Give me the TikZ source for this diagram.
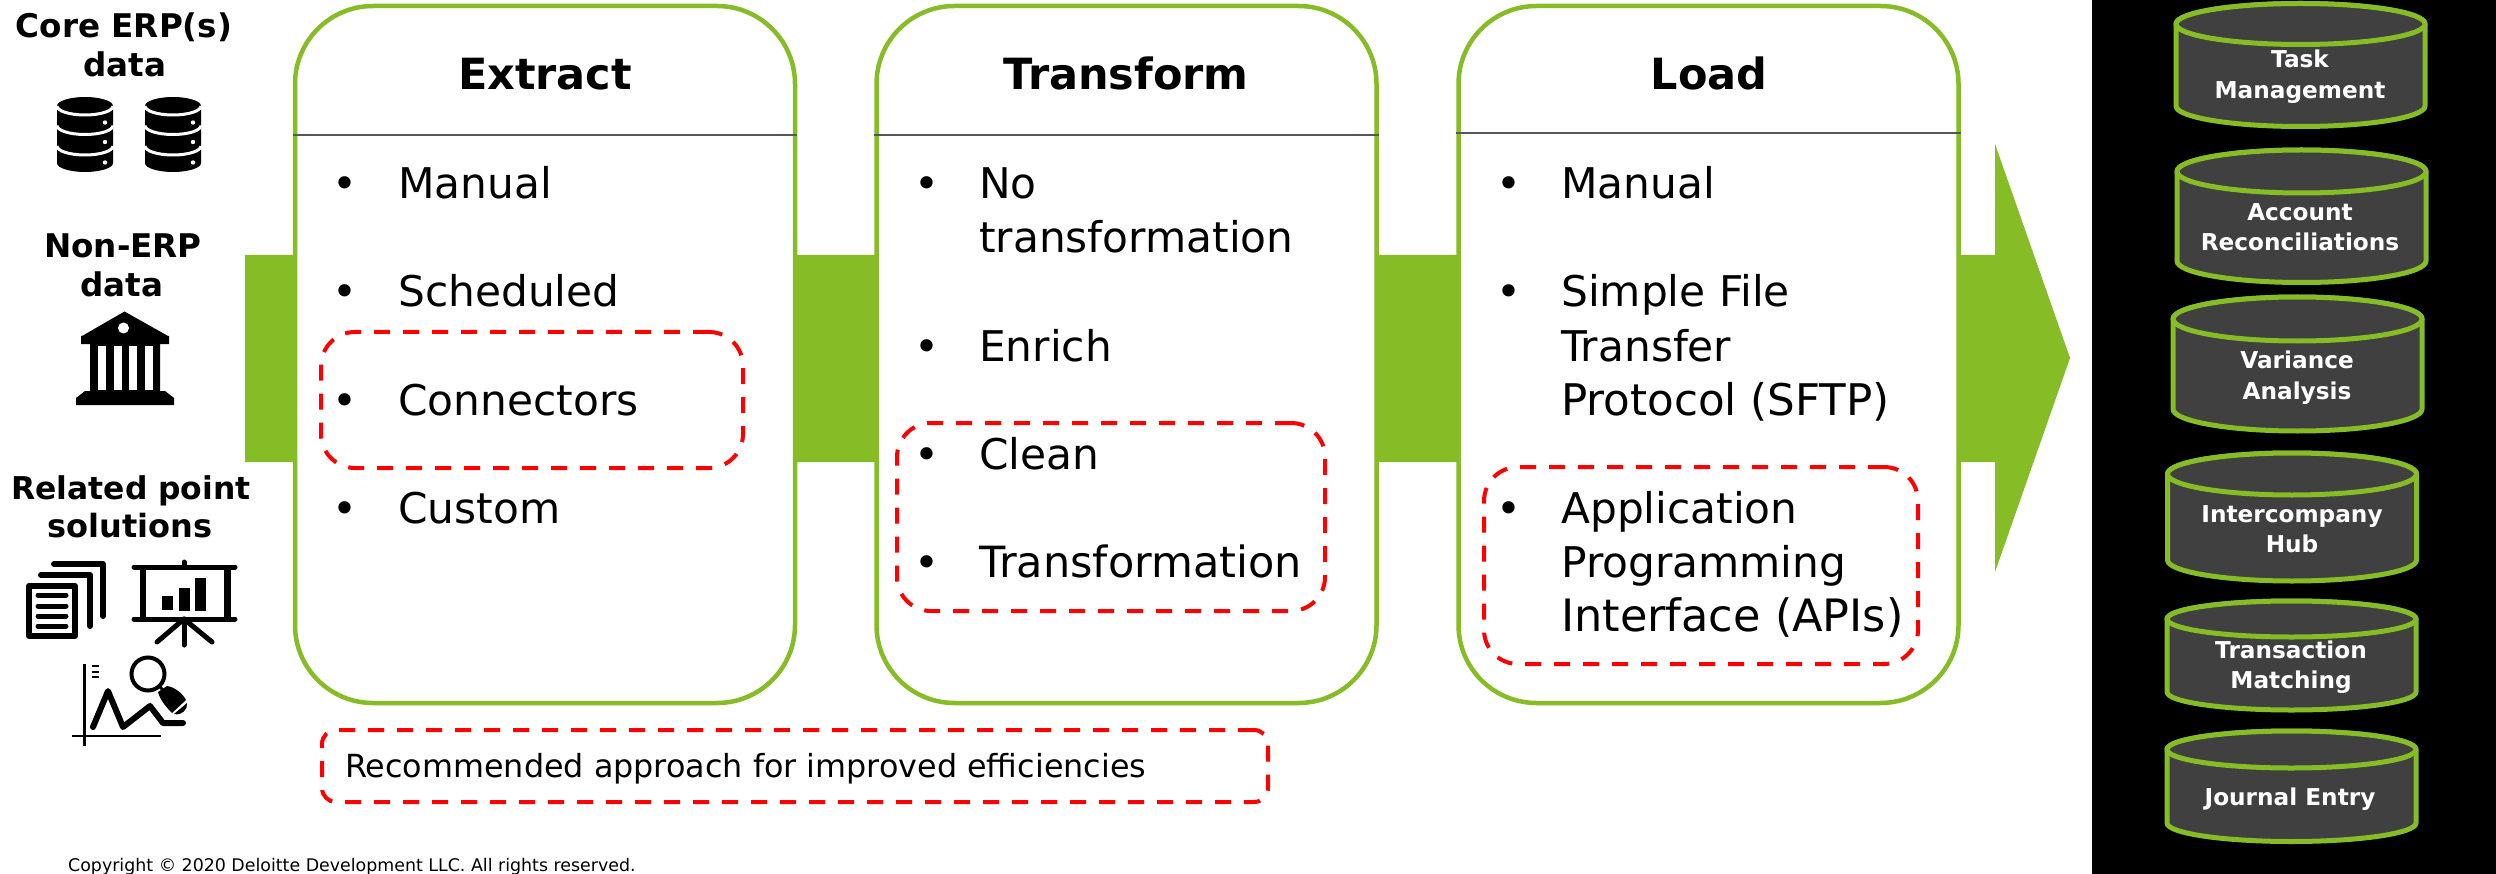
\documentclass[tikz,border=0pt]{standalone}
\usepackage{fontspec}
\setmainfont{DejaVu Sans}
\definecolor{dgreen}{HTML}{86BC25}
\definecolor{dgrey}{HTML}{404040}
\definecolor{rulegrey}{HTML}{53565A}
\tikzset{
  stagebox/.style={draw=dgreen,line width=4.5pt,fill=white,rounded corners=78pt,inner sep=0pt,minimum width=500pt,minimum height=697pt},
  redbox/.style={draw=red,line width=4pt,dash pattern=on 16pt off 13pt,rounded corners=#1,inner sep=0pt},
  redbox/.default=34pt,
  body/.style={anchor=base west,inner sep=0pt,font=\fontsize{42.3}{54}\selectfont,align=left},
  bodywide/.style={body,font=\fontsize{43}{54}\selectfont},
  title/.style={anchor=base,inner sep=0pt,font=\bfseries\fontsize{43}{50}\selectfont},
  srclabel/.style={anchor=base,inner sep=0pt,font=\bfseries\fontsize{32.6}{39}\selectfont,align=center},
  cyllabel/.style={anchor=base,inner sep=0pt,text=white,font=\bfseries\fontsize{23.2}{30.5}\selectfont,align=center},
  cylline/.style={draw=dgreen,line width=5pt,fill=dgrey,line join=round},
  ic/.style={line width=6pt,line cap=round,line join=round,black},
}
\newcommand{\cyl}[5]{% cx, half width, ellipse mid y, ry, side bottom y
  \path[cylline] (#1-#2,#3) -- (#1-#2,#5) arc[start angle=180,end angle=360,x radius=#2 pt,y radius=#4 pt] -- (#1+#2,#3) arc[start angle=0,end angle=180,x radius=#2 pt,y radius=#4 pt] -- cycle;
  \path[cylline] (#1,#3) ellipse[x radius=#2 pt,y radius=#4 pt];
}
\newcommand{\dbicon}[1]{%
  \fill[black] (#1,106) -- (#1,163) arc[start angle=180,end angle=360,x radius=28pt,y radius=9pt] -- (#1+56,106) arc[start angle=0,end angle=180,x radius=28pt,y radius=9pt] -- cycle;
  \foreach \yy in {106,125.5,146}{
    \draw[white,line width=3pt] (#1,\yy) arc[start angle=180,end angle=360,x radius=28pt,y radius=9pt];
    \fill[white] (#1+48,\yy+16.5) circle[radius=2.2pt];
  }
}
\begin{document}
\begin{tikzpicture}[x=1pt,y=-1pt]
\useasboundingbox (0,0) rectangle (2496,874);
\fill[white] (0,0) rectangle (2496,874);
% arrow
\fill[dgreen] (245,255) -- (1995,255) -- (1995,144) -- (2070,358) -- (1995,572) -- (1995,462) -- (245,462) -- cycle;
% stage boxes
\node[stagebox] (extract) at (545,354.5) {};
\node[stagebox] (transform) at (1126.5,354.5) {};
\node[stagebox] (load) at (1708.5,354.5) {};
\draw[rulegrey,line width=2pt] (extract.west |- 0,135) -- (extract.east |- 0,135);
\draw[rulegrey,line width=2pt] (transform.west |- 0,135) -- (transform.east |- 0,135);
\draw[rulegrey,line width=2pt] (load.west |- 0,133) -- (load.east |- 0,133);
\node[title] (t1) at (545,90) {Extract};
\node[title] (t2) at (1126,90) {Transform};
\node[title] (t3) at (1709,90) {Load};
% Extract list
\foreach \n/\yy/\tx in {a/199/Manual,b/307/Scheduled,c/415/Connectors,d/523/Custom}{
  \node[body] (bu\n) at (332,\yy) {•};
  \node[body] (ex\n) at (398,\yy) {\tx};
}
% Transform list
\node[body] (bt1) at (914,199) {•};
\node[body] (tr1a) at (979,199) {No};
\node[body] (tr1b) at (979,253) {transformation};
\node[body] (bt2) at (914,361) {•};
\node[body] (tr2) at (979,361) {Enrich};
\node[body] (bt3) at (914,469) {•};
\node[body] (tr3) at (979,469) {Clean};
\node[body] (bt4) at (914,577) {•};
\node[bodywide] (tr4) at (979,577) {Transformation};
% Load list
\node[body] (bl1) at (1496,199) {•};
\node[body] (lo1) at (1561,199) {Manual};
\node[body] (bl2) at (1496,307) {•};
\node[body] (lo2a) at (1561,307) {Simple File};
\node[body] (lo2b) at (1561,361) {Transfer};
\node[bodywide,font=\fontsize{43.6}{54}\selectfont] (lo2c) at (1561,415) {Protocol (SFTP)};
\node[body] (bl3) at (1496,523) {•};
\node[body] (lo3a) at (1561,523) {Application};
\node[body] (lo3b) at (1561,577) {Programming};
\node[bodywide,font=\fontsize{44.6}{54}\selectfont] (lo3c) at (1561,631) {Interface (APIs)};
% red dashed
\node[redbox,minimum width=422pt,minimum height=136pt] (r1) at (532,400) {};
\node[redbox,minimum width=428pt,minimum height=188pt] (r2) at (1111,517) {};
\node[redbox,minimum width=434pt,minimum height=197pt] (r3) at (1701,565.5) {};
\node[redbox=14pt,minimum width=946pt,minimum height=72pt] (r4) at (795,766) {};
\node[anchor=base west,inner sep=0pt,font=\fontsize{31.8}{38}\selectfont] (legend) at (345,777) {Recommended approach for improved efficiencies};
\node[anchor=base west,inner sep=0pt,font=\fontsize{17.4}{22}\selectfont] (copy) at (68,871) {Copyright © 2020 Deloitte Development LLC. All rights reserved.};
% source labels
\node[srclabel] (s1a) at (124,38) {Core ERP(s)};
\node[srclabel] (s1b) at (125,77) {data};
\node[srclabel] (s2a) at (123,258) {Non-ERP};
\node[srclabel] (s2b) at (122,297) {data};
\node[srclabel,font=\bfseries\fontsize{31.4}{39}\selectfont] (s3a) at (131,499) {Related point};
\node[srclabel,font=\bfseries\fontsize{32}{39}\selectfont] (s3b) at (130,537) {solutions};
% db icons
\dbicon{57}
\dbicon{145}
% bank icon
\fill[black] (124.5,311.5) -- (168,336) -- (169,336) -- (169,344) -- (160,344) -- (160,391) -- (165,391) -- (174,398) -- (174,405) -- (76,405) -- (76,398) -- (85,391) -- (90,391) -- (90,344) -- (81,344) -- (81,336) -- (82,336) -- cycle;
\fill[white] (123.5,328) circle[radius=5.5pt];
\foreach \xx in {98,113.5,129,144.5}{\fill[white] (\xx,346) rectangle (\xx+8,390);}
% files icon
\draw[ic,line width=6pt] (29,586) rectangle (75,636);
\foreach \yy in {595,606,616,626}{\draw[ic,line width=5pt] (38,\yy) -- (66,\yy);}
\draw[ic,line width=6pt] (41,575) -- (90,575) -- (90,626);
\draw[ic,line width=6pt] (54,564) -- (103,564) -- (103,616);
% presentation icon
\draw[ic,line width=5pt] (134,567) -- (235,567);
\draw[ic,line width=5pt] (134,619) -- (235,619);
\draw[ic,line width=5pt] (184,562) -- (184,567);
\draw[ic,line width=5pt] (184,619) -- (184,645);
\draw[ic,line width=5pt] (157,642) -- (184,619) -- (212,642);
\fill[black] (139.5,567) rectangle (146,619);
\fill[black] (224,567) rectangle (231,619);
\fill[black] (162,596) rectangle (173,610);
\fill[black] (179,588) rectangle (190,611);
\fill[black] (195,578) rectangle (206,611);
% chart icon
\draw[black,line width=2.5pt] (84.5,664) -- (84.5,746);
\draw[black,line width=2.5pt] (72,736) -- (161,736);
\foreach \yy in {666,672,677}{\draw[black,line width=2.5pt] (92,\yy) -- (99,\yy);}
\draw[ic,line width=6pt] (93,727) -- (108,691) -- (123,727) -- (150,706) -- (163,723) -- (183,723);
\draw[black,line width=4pt] (148,674) circle[radius=16.5pt];
\draw[black,line width=3pt] (159,686) -- (165,692);
\fill[black] (158,692) -- (167,686) .. controls (175,687) and (183,694) .. (186,700) -- (172,713) .. controls (167,708) and (160,700) .. cycle;
\fill[black] (174,714) .. controls (182,716) and (188,709) .. (187,703) -- cycle;
% panel
\fill[black] (2092,0) rectangle (2496,874);
\cyl{2300.5}{124.5}{24}{20.5}{106}
\cyl{2301.5}{124.5}{171.5}{21.5}{261}
\cyl{2297.5}{124.5}{319}{22}{409}
\cyl{2292}{124.5}{474}{21}{560}
\cyl{2291.5}{124.5}{619}{18}{692}
\cyl{2291.5}{124.5}{749.5}{18.5}{823}
\node[cyllabel] (c1a) at (2300,68) {Task};
\node[cyllabel] (c1b) at (2300,99) {Management};
\node[cyllabel] (c2a) at (2300,221) {Account};
\node[cyllabel] (c2b) at (2300,251) {Reconciliations};
\node[cyllabel] (c3a) at (2297,368) {Variance};
\node[cyllabel] (c3b) at (2297,399) {Analysis};
\node[cyllabel] (c4a) at (2292,522) {Intercompany};
\node[cyllabel] (c4b) at (2292,552) {Hub};
\node[cyllabel] (c5a) at (2291,658) {Transaction};
\node[cyllabel] (c5b) at (2291,688) {Matching};
\node[cyllabel] (c6) at (2290,805) {Journal Entry};
\end{tikzpicture}
\end{document}
